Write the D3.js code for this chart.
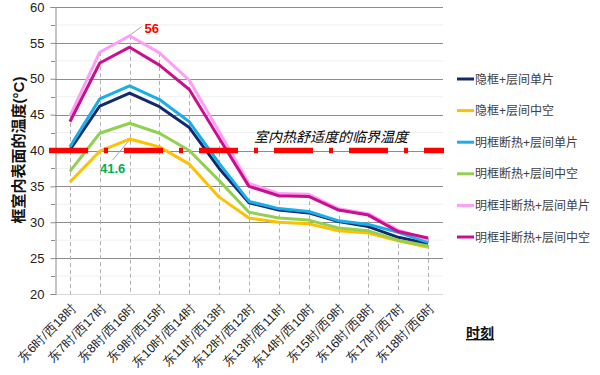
<!DOCTYPE html>
<html><head><meta charset="utf-8">
<script src="https://cdn.jsdelivr.net/npm/d3@7"></script>
<style>body{margin:0;background:#fff;}svg{display:block;font-family:"Liberation Sans",Arial,"Noto Sans CJK SC",sans-serif;}</style>
</head><body>
<svg id="c" width="600" height="375"></svg>
<script>
const categories = ["东6时/西18时","东7时/西17时","东8时/西16时","东9时/西15时","东10时/西14时","东11时/西13时","东12时/西12时","东13时/西11时","东14时/西10时","东15时/西9时","东16时/西8时","东17时/西7时","东18时/西6时"];
const seriesNames = ["隐框+层间单片","隐框+层间中空","明框断热+层间单片","明框断热+层间中空","明框非断热+层间单片","明框非断热+层间中空"];
const navyVals    = [40.1, 46.2, 48.0, 46.1, 43.2, 37.5, 32.7, 31.7, 31.3, 30.1, 29.4, 27.9, 27.0];
const orangeVals  = [35.6, 39.9, 41.6, 40.5, 38.1, 33.5, 30.6, 30.0, 29.8, 28.8, 28.5, 27.4, 26.5];
const blueVals    = [40.5, 47.2, 49.0, 47.1, 44.0, 38.2, 32.9, 31.9, 31.5, 30.2, 29.7, 28.6, 27.2];
const greenVals   = [37.1, 42.4, 43.8, 42.4, 40.0, 35.8, 31.4, 30.6, 30.3, 29.2, 28.8, 27.5, 26.7];
const pinkVals    = [44.8, 53.7, 56.0, 53.6, 49.8, 42.6, 35.4, 34.0, 33.9, 31.9, 31.2, 28.9, 27.6];
const magentaVals = [44.0, 52.2, 54.4, 51.9, 48.5, 41.7, 35.0, 33.7, 33.6, 31.7, 31.0, 28.7, 27.8];
const thresholdValue = 40;
const thresholdLabel = "室内热舒适度的临界温度";
const yTicks = [20,25,30,35,40,45,50,55,60];
const yTitle = "框室内表面的温度(°C)";
const xTitle = "时刻";
const annotations = [{cat:2, value:56, text:"56", color:"#ff0000"}, {cat:2, value:41.6, text:"41.6", color:"#00b050"}];

const colors = ["#112a6b","#ffc000","#19aeea","#92d050","#ff9ef6","#c8108e"];
const allSeries = [navyVals, orangeVals, blueVals, greenVals, pinkVals, magentaVals];

const svg = d3.select("#c");
const L = 55, R = 443, T = 7, B = 294;
const x = d3.scaleBand().domain(categories).range([L, R]);
const cx = c => x(c) + x.bandwidth()/2;
const y = d3.scaleLinear().domain([20,60]).range([B, T]);

// minor gridlines
const minor = d3.range(22.5, 60, 5);
svg.append("g").selectAll("line").data(minor).join("line")
  .attr("x1", L).attr("x2", R).attr("y1", d=>y(d)).attr("y2", d=>y(d))
  .attr("stroke", "#efefef").attr("stroke-width", 1);
// major gridlines
svg.append("g").selectAll("line").data(yTicks.filter(d=>d>20)).join("line")
  .attr("x1", L).attr("x2", R).attr("y1", d=>Math.round(y(d))+0.5).attr("y2", d=>Math.round(y(d))+0.5)
  .attr("stroke", "#8c8c8c").attr("stroke-width", 1);
// bottom axis line
svg.append("line").attr("x1", L).attr("x2", R).attr("y1", B+0.5).attr("y2", B+0.5).attr("stroke", "#d9d9d9");

// drop lines
svg.append("g").selectAll("line").data(categories).join("line")
  .attr("x1", d=>Math.round(cx(d))+0.5).attr("x2", d=>Math.round(cx(d))+0.5)
  .attr("y1", (d,i)=>y(d3.max(allSeries, s=>s[i]))).attr("y2", B)
  .attr("stroke", "#b0b0b0").attr("stroke-width", 1).attr("stroke-dasharray", "4,3");

// y axis
const yAxis = d3.axisLeft(y).tickValues(yTicks).tickSize(5).tickPadding(6);
const ya = svg.append("g").attr("transform", `translate(${L+0.5},0)`).call(yAxis);
ya.select(".domain").attr("stroke", "#8c8c8c");
ya.selectAll(".tick line").attr("stroke", "#8c8c8c");
ya.selectAll(".tick text").attr("font-size", 13).attr("fill", "#222").attr("font-family", "Liberation Sans, Arial, sans-serif");
svg.append("g").selectAll("line").data(minor).join("line")
  .attr("x1", L-4).attr("x2", L).attr("y1", d=>Math.round(y(d))+0.5).attr("y2", d=>Math.round(y(d))+0.5)
  .attr("stroke", "#8c8c8c");

// x axis labels
const xAxis = d3.axisBottom(x).tickSize(0);
const xa = svg.append("g").attr("transform", `translate(0,${B})`).call(xAxis);
xa.select(".domain").remove();
xa.selectAll(".tick text").attr("font-size", 12.5).attr("fill", "#222")
  .attr("text-anchor", "end").attr("dy", 0).attr("y", 0)
  .attr("transform", "translate(7,15) rotate(-45)");

// series lines
const line = d3.line().x((d,i)=>cx(categories[i])).y(d=>y(d));
svg.append("g").selectAll("path").data(allSeries).join("path")
  .attr("d", d=>line(d)).attr("fill", "none")
  .attr("stroke", (d,i)=>colors[i]).attr("stroke-width", 3).attr("stroke-linejoin", "round");

// threshold dashed line
svg.append("line").attr("x1", 49).attr("x2", R+1).attr("y1", y(thresholdValue)).attr("y2", y(thresholdValue))
  .attr("stroke", "#ff0000").attr("stroke-width", 5.5).attr("stroke-dasharray", "39,16,4,16");
svg.append("text").attr("x", 331).attr("y", y(thresholdValue)-9).attr("text-anchor", "middle")
  .attr("font-size", 14).attr("font-style", "italic").attr("fill", "#000").text(thresholdLabel);

// annotations
const a0 = annotations[0], a1 = annotations[1];
svg.append("line").attr("x1", cx(categories[a0.cat])+1).attr("y1", y(a0.value)-1).attr("x2", cx(categories[a0.cat])+12).attr("y2", y(a0.value)-9)
  .attr("stroke", "#a6a6a6").attr("stroke-width", 1);
svg.append("text").attr("x", cx(categories[a0.cat])+15).attr("y", y(a0.value)-3).attr("font-size", 13).attr("font-weight", "bold")
  .attr("fill", a0.color).text(a0.text);
svg.append("line").attr("x1", cx(categories[a1.cat])-1).attr("y1", y(a1.value)+2).attr("x2", cx(categories[a1.cat])-17).attr("y2", y(a1.value)+21)
  .attr("stroke", "#a6a6a6").attr("stroke-width", 1);
svg.append("text").attr("x", cx(categories[a1.cat])-17).attr("y", y(a1.value)+34).attr("text-anchor", "middle").attr("font-size", 13).attr("font-weight", "bold")
  .attr("fill", a1.color).text(a1.text);

// y title
svg.append("text").attr("transform", `translate(24,150) rotate(-90)`).attr("text-anchor", "middle")
  .attr("font-size", 15).attr("font-weight", "bold").attr("fill", "#111").text(yTitle);

// x title
svg.append("text").attr("x", 466).attr("y", 338).attr("font-size", 14).attr("font-weight", "bold")
  .attr("fill", "#111").attr("text-decoration", "underline").text(xTitle);

// legend
const lg = svg.append("g").selectAll("g").data(seriesNames).join("g")
  .attr("transform", (d,i)=>`translate(457,${79 + i*31.6})`);
lg.append("line").attr("x1", 0).attr("x2", 17).attr("y1", 0).attr("y2", 0)
  .attr("stroke", (d,i)=>colors[i]).attr("stroke-width", 3);
lg.append("text").attr("x", 18).attr("y", 4.5).attr("font-size", 12).attr("fill", "#404040").text(d=>d);
</script>
</body></html>
